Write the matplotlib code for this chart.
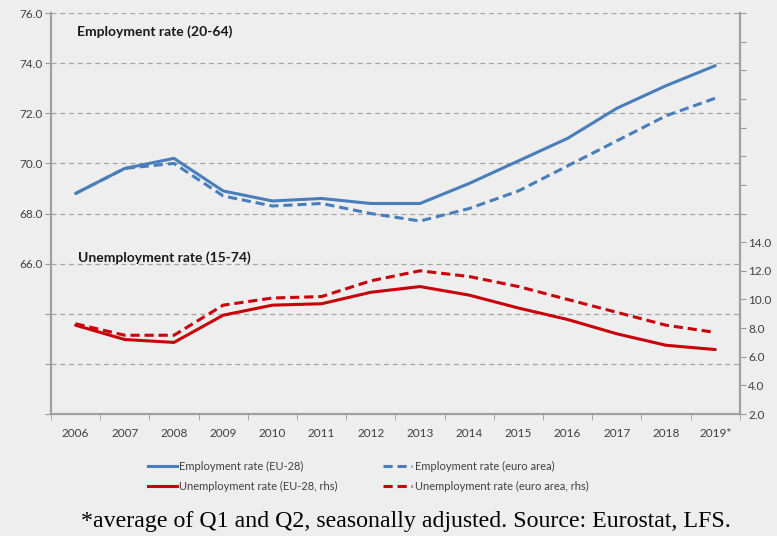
import matplotlib.pyplot as plt
from matplotlib.ticker import FixedLocator, FuncFormatter
from matplotlib.lines import Line2D

years = ['2006', '2007', '2008', '2009', '2010', '2011', '2012',
         '2013', '2014', '2015', '2016', '2017', '2018', '2019*']

emp_eu28 = [68.8, 69.8, 70.2, 68.9, 68.5, 68.6, 68.4, 68.4, 69.2, 70.1, 71.0, 72.2, 73.1, 73.9]
emp_ea = [68.8, 69.8, 70.0, 68.7, 68.3, 68.4, 68.0, 67.7, 68.2, 68.9, 69.9, 70.9, 71.9, 72.6]
unemp_eu28 = [8.2, 7.2, 7.0, 8.9, 9.6, 9.7, 10.5, 10.9, 10.3, 9.4, 8.6, 7.6, 6.8, 6.5]
unemp_ea = [8.3, 7.5, 7.5, 9.6, 10.1, 10.2, 11.3, 12.0, 11.6, 10.9, 10.0, 9.1, 8.2, 7.7]

blue = '#4A7EBB'
red = '#C8000A'
grey_txt = '#404040'
bg = '#EEEEEE'

plt.rcParams['font.family'] = ['Lato', 'DejaVu Sans']

fig = plt.figure(figsize=(7.77, 5.36), dpi=100, facecolor=bg)
ax = fig.add_axes([0.0656, 0.2276, 0.8866, 0.7481], facecolor=bg)
ax2 = ax.twinx()

x = list(range(len(years)))

# left axis: employment
ax.plot(x, emp_eu28, color=blue, lw=2.2, solid_capstyle='round')
ax.plot(x, emp_ea, color=blue, lw=2.2, ls=(0, (3, 1.6)))
ax.set_ylim(60, 76)
ax.set_xlim(-0.5, len(years) - 0.5)
ax.yaxis.set_major_locator(FixedLocator([60, 62, 64, 66, 68, 70, 72, 74, 76]))
ax.yaxis.set_major_formatter(FuncFormatter(lambda v, p: f'{v:.1f}' if v >= 66 else ''))
ax.grid(axis='y', color='#A6A6A6', ls=(0, (4, 3)), lw=0.9)
ax.set_axisbelow(True)

# right axis: unemployment
ax2.plot(x, unemp_eu28, color=red, lw=2.2, solid_capstyle='round')
ax2.plot(x, unemp_ea, color=red, lw=2.2, ls=(0, (3, 1.6)))
ax2.set_ylim(2, 30)
ax2.yaxis.set_major_locator(FixedLocator(list(range(2, 31, 2))))
ax2.yaxis.set_major_formatter(FuncFormatter(lambda v, p: f'{v:.1f}' if v <= 14 else ''))

ax.set_xticks(x)
ax.set_xticklabels(years)
ax.set_xticks([i - 0.5 for i in range(len(years) + 1)], minor=True)
ax.tick_params(axis='x', which='major', length=0, pad=10, labelsize=8.5, labelcolor=grey_txt)
ax.tick_params(axis='x', which='minor', length=4, color='#999999')
ax.tick_params(axis='y', length=4, color='#999999', labelsize=8.5, labelcolor=grey_txt, pad=2)
ax2.tick_params(axis='y', length=4, color='#999999', labelsize=8.5, labelcolor=grey_txt, pad=2)

for a in (ax, ax2):
    a.spines['top'].set_visible(False)
    for s in ('left', 'right', 'bottom'):
        a.spines[s].set_color('#A0A0A0')
        a.spines[s].set_linewidth(1.5)

ax.text(0.03, 75.25, 'Employment rate (20-64)', fontsize=10, fontweight='bold',
        color='#1a1a1a', va='center')
ax.text(0.05, 66.25, 'Unemployment rate (15-74)', fontsize=10, fontweight='bold',
        color='#1a1a1a', va='center')

handles = [
    Line2D([], [], color=blue, lw=2.2),
    Line2D([], [], color=red, lw=2.2),
    Line2D([], [], color=blue, lw=2.2, ls=(0, (3, 1.6))),
    Line2D([], [], color=red, lw=2.2, ls=(0, (3, 1.6))),
]
labels = ['Employment rate (EU-28)', 'Unemployment rate (EU-28, rhs)',
          'Employment rate (euro area)', 'Unemployment rate (euro area, rhs)']
fig.legend(handles, labels, ncol=2, loc='center', bbox_to_anchor=(0.474, 0.111),
           frameon=False, fontsize=8, handlelength=2.6, handletextpad=0.25,
           columnspacing=4.1, labelspacing=0.75, labelcolor=grey_txt)

fig.text(0.523, 0.008, '*average of Q1 and Q2, seasonally adjusted. Source: Eurostat, LFS.',
         ha='center', va='bottom', fontsize=17.2, family='Liberation Serif', color='black')

fig.savefig('out.png', dpi=100, facecolor=bg)
